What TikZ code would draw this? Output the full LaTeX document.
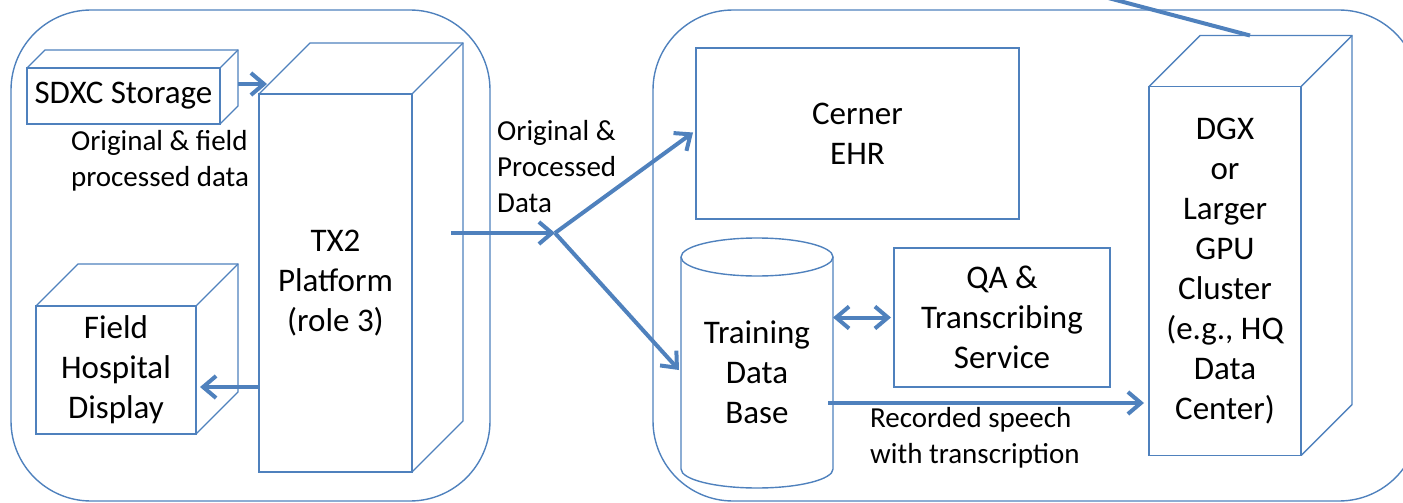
\documentclass[tikz,border=0pt]{standalone}
\usepackage{fontspec}
\setmainfont{Carlito}
\usepackage{xcolor}
\usepackage{tikz}
\usetikzlibrary{arrows.meta,calc}
\definecolor{msblue}{RGB}{79,129,189}
\tikzset{
  panel/.style={draw=msblue,line width=1.4pt,rounded corners=80pt,inner sep=0pt,outer sep=0pt},
  face/.style={draw=msblue,line width=1.4pt},
  blk/.style={face,inner sep=0pt,outer sep=0pt,align=center,font=\fontsize{33}{40}\selectfont},
  note/.style={inner sep=0pt,align=left,font=\fontsize{29}{36}\selectfont},
  link/.style={draw=msblue,line width=4pt},
  flow/.style={link,-{Straight Barb[length=13pt,width=22pt]}},
  twoway/.style={link,{Straight Barb[length=13pt,width=22pt]}-{Straight Barb[length=13pt,width=22pt]}},
}
\newcommand{\boxdepth}[2]{%
  \draw[face] (#1.north west) -- ++(#2,-#2) -| ($(#1.south east)+(#2,-#2)$) -- (#1.south east);
  \draw[face] (#1.north east) -- ++(#2,-#2);
}

\begin{document}
\begin{tikzpicture}[x=1pt,y=-1pt]
  \useasboundingbox (0,0) rectangle (1403,503);
  \node[panel,minimum width=479pt,minimum height=491pt] (field) at (250.5,255.5) {};
  \node[panel,minimum width=766pt,minimum height=491pt] (base) at (1036,255.5) {};

  \node[blk,minimum width=193pt,minimum height=56pt] (sd) at (123.5,96) {SDXC Storage};
  \boxdepth{sd}{18}
  \node[blk,minimum width=153pt,minimum height=378pt] (tx2) at (335.5,283) {TX2\\Platform\\(role 3)};
  \boxdepth{tx2}{51}
  \node[blk,minimum width=160pt,minimum height=128pt] (fhd) at (116,370) {Field\\Hospital\\Display};
  \boxdepth{fhd}{42}
  \node[note] (sdnote) at (160,161) {Original \& field\\processed data};

  \node[blk,minimum width=323pt,minimum height=171pt] (ehr) at (857.5,133.5) {Cerner\\EHR};
  \node[inner sep=0pt,outer sep=0pt,minimum width=152pt,minimum height=250pt] (tdb) at (757,363) {};
  \draw[face] ($(tdb.north)+(0,19)$) ellipse [x radius=76, y radius=19];
  \draw[face] ($(tdb.north west)+(0,19)$) -- ($(tdb.south west)+(0,-19)$)
    arc [start angle=180, end angle=0, x radius=76, y radius=19] -- ($(tdb.north east)+(0,19)$);
  \node[blk,draw=none] (tdblbl) at (757,372) {Training\\Data\\Base};
  \node[blk,minimum width=216pt,minimum height=139pt] (qa) at (1002,317.5) {QA \&\\Transcribing\\Service};
  \node[blk,minimum width=152pt,minimum height=369pt] (dgx) at (1225,271) {DGX\\or\\Larger\\GPU\\Cluster\\(e.g., HQ\\Data\\Center)};
  \boxdepth{dgx}{51}

  \coordinate (sdout) at (238,84);
  \coordinate (txin) at (267,84);
  \coordinate (fhdin) at (200,387);
  \coordinate (txout) at (451,233);
  \coordinate (split) at (555,233);
  \coordinate (tdbout) at (828,403);
  \coordinate (dgxtop) at ($(dgx.north)+(25,-51)$);
  \coordinate (uplink) at (1097,-5);

  \draw[flow] (sdout) -- (txin);
  \draw[flow] (tx2.west |- fhdin) -- (fhdin);
  \draw[flow] (txout) -- (split);
  \draw[flow] (split) -- ([xshift=-3pt,yshift=1pt]ehr.west);
  \draw[flow] (split) -- ([xshift=-2pt,yshift=-7pt]tdb.west);
  \draw[twoway] (qa.west -| tdb.east) -- ([xshift=-3pt]qa.west);
  \draw[flow] (tdbout) -- ([xshift=-5pt]tdbout -| dgx.west);
  \draw[link] (dgxtop) -- (uplink);

  \node[note,anchor=west] (splitnote) at (497,167) {Original \&\\Processed\\Data};
  \node[note,anchor=west] (speechnote) at (870,438) {Recorded speech\\with transcription};
\end{tikzpicture}
\end{document}
